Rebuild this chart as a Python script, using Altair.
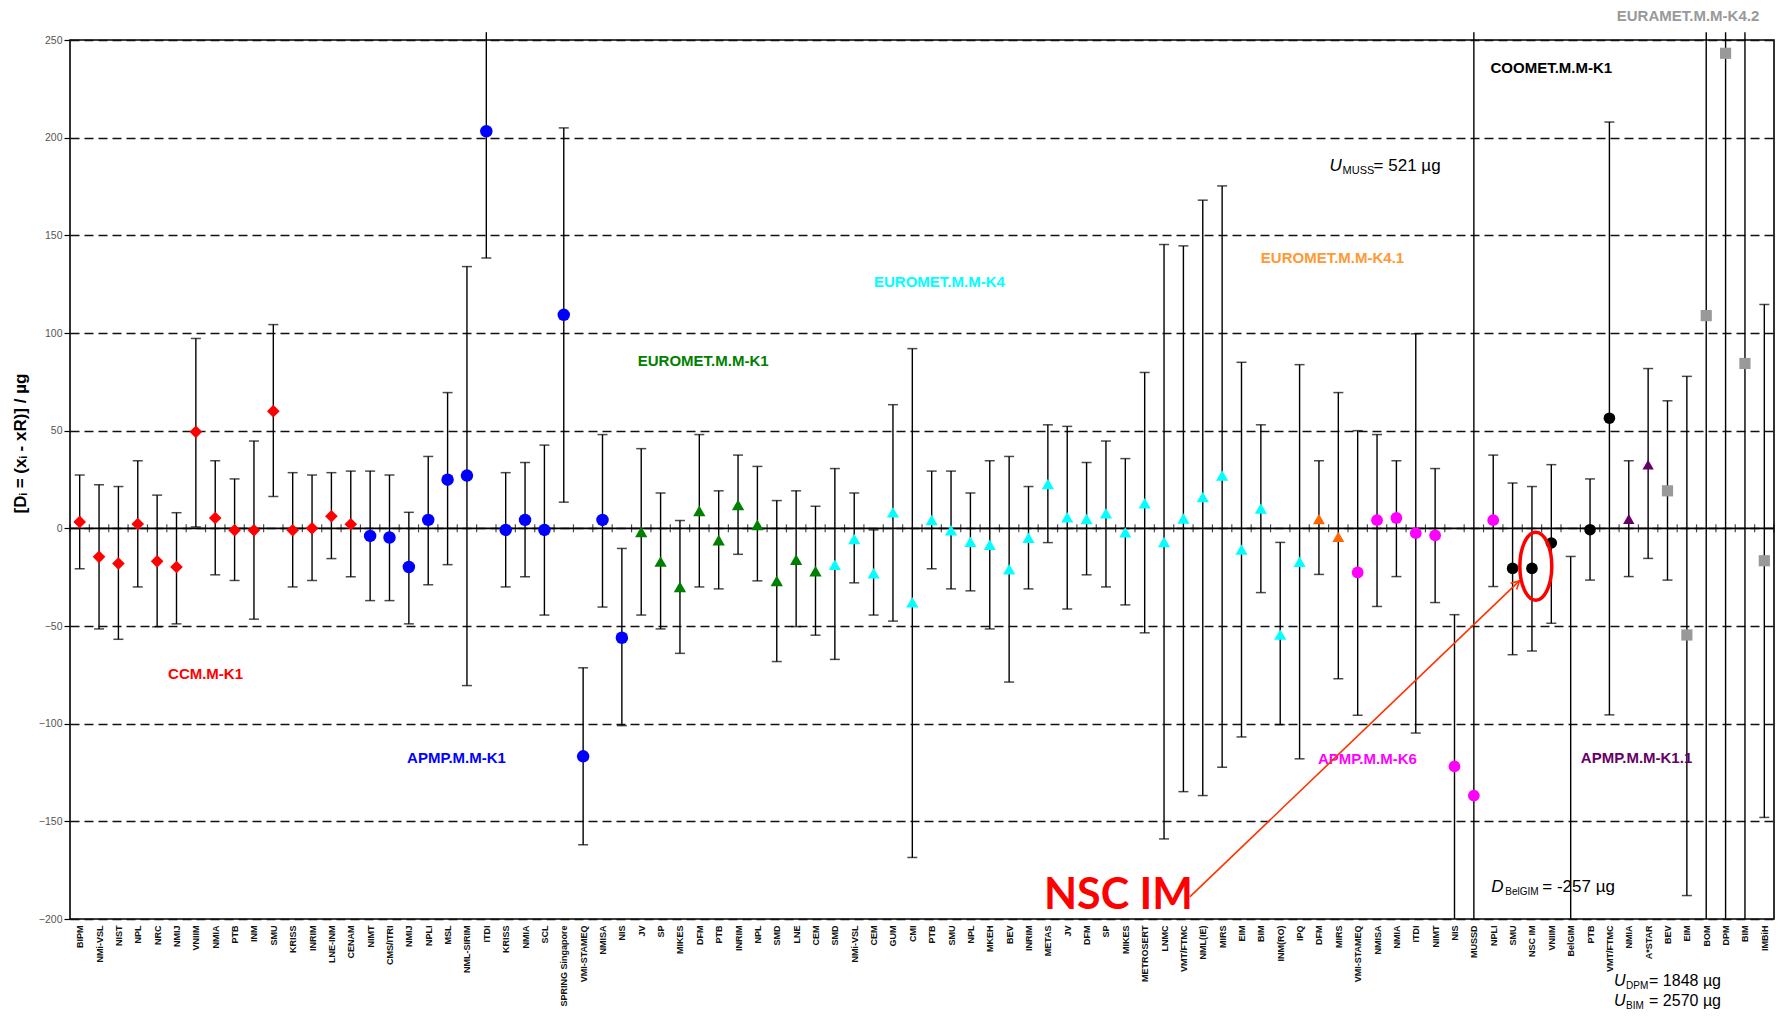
import altair as alt
import pandas as pd
import numpy as np

# ---------------- data ----------------
names = ["BIPM", "NMi-VSL", "NIST", "NPL", "NRC", "NMIJ", "VNIIM", "NMIA", "PTB", "INM",
         "SMU", "KRISS", "INRIM", "LNE-INM", "CENAM", "NIMT", "CMS/ITRI", "NMIJ", "NPLI", "MSL",
         "NML-SIRIM", "ITDI", "KRISS", "NMIA", "SCL", "SPRING Singapore", "VMI-STAMEQ", "NMISA", "NIS", "JV",
         "SP", "MIKES", "DFM", "PTB", "INRIM", "NPL", "SMD", "LNE", "CEM", "SMD",
         "NMi-VSL", "CEM", "GUM", "CMI", "PTB", "SMU", "NPL", "MKEH", "BEV", "INRIM",
         "METAS", "JV", "DFM", "SP", "MIKES", "METROSERT", "LNMC", "VMT/FTMC", "NML(IE)", "MIRS",
         "EIM", "BIM", "INM(RO)", "IPQ", "DFM", "MIRS", "VMI-STAMEQ", "NMISA", "NMIA", "ITDI",
         "NIMT", "NIS", "MUSSD", "NPLI", "SMU", "NSC IM", "VNIIM", "BelGIM", "PTB", "VMT/FTMC",
         "NMIA", "A*STAR", "BEV", "EIM", "BOM", "DPM", "BIM", "IMBiH"]

groups = (["CCM.M-K1"] * 15 + ["APMP.M.M-K1"] * 14 + ["EUROMET.M.M-K1"] * 10 +
          ["EUROMET.M.M-K4"] * 25 + ["EUROMET.M.M-K4.1"] * 2 + ["APMP.M.M-K6"] * 8 +
          ["COOMET.M.M-K1"] * 6 + ["APMP.M.M-K1.1"] * 2 + ["EURAMET.M.M-K4.2"] * 6)

values = [3.3, -14.6, -18, 2.2, -16.9, -19.8, 49.4, 5.3, -1, -1,
          60, -1, 0, 6.2, 2.1, -3.9, -4.7, -19.8, 4.3, 24.9,
          27, 203.3, -0.8, 4.3, -0.8, 109.3, -116.7, 4.3, -56, -1.8,
          -17, -30, 8.9, -6, 12, 1.8, -26.9, -16, -21.9, -18.6,
          -5.5, -23, 8.2, -37.9, 4.3, -1, -6.9, -8.4, -21, -4.8,
          22.7, 5.7, 4.8, 7.7, -2, 12.9, -7, 5, 16, 27,
          -10.9, 10.2, -54.3, -17.1, 4.8, -4.4, -22.6, 4.2, 5.3, -2.5,
          -3.6, -121.9, -136.8, 4.2, -20.5, -20.5, -7.5, -257, -0.7, 56.4,
          4.8, 32.6, 19.2, -54.6, 108.9, 243.2, 84.4, -16.6]

lows = [-20.7, -51.5, -56.8, -30, -50.4, -48.9, 0.7, -23.8, -26.7, -46.5,
        16.3, -30, -26.7, -15.5, -24.8, -37, -37, -48.9, -28.9, -18.6,
        -80.5, 138.4, -30, -24.8, -44.4, 13.4, -162, -40.3, -101, -44.4,
        -51.5, -64, -30, -31, -13.3, -26.9, -68.2, -50.3, -54.7, -67.1,
        -27.9, -44.4, -47.5, -168.5, -20.7, -31, -32, -51.5, -78.7, -31,
        -7.3, -41.3, -23.8, -30, -39.2, -53.5, -159, -134.8, -136.8, -122.3,
        -106.8, -32.9, -100.5, -118, -23.6, -77, -95.7, -40, -24.7, -104.8,
        -38, -201, -658, -29.8, -64.7, -62.8, -48.6, -500, -26.5, -95.5,
        -24.7, -15.4, -26.5, -188, -600, -1605, -2486, -148]

highs = [27.3, 22.3, 21.4, 34.6, 17, 8, 97.2, 34.6, 25.3, 44.7,
         104.3, 28.5, 27.3, 28.5, 29.3, 29.3, 27.3, 8.2, 36.8, 69.5,
         134, 268, 28.5, 33.7, 42.6, 205, -71.4, 48, -10.3, 40.8,
         18.1, 4, 48, 19.2, 37.5, 31.7, 14.2, 19.2, 11.3, 30.6,
         18.1, -0.8, 63.3, 92, 29.3, 29.3, 18.1, 34.6, 36.8, 21.4,
         53, 52.2, 33.7, 44.7, 35.7, 79.8, 145.3, 144.6, 168, 175.3,
         85, 53, -7.2, 83.8, 34.6, 69.5, 50, 48, 34.6, 99.6,
         30.6, -44.2, 384, 37.5, 23.2, 21.4, 32.6, -14.4, 25.3, 208,
         34.6, 81.8, 65.3, 77.8, 800, 2091, 2654, 114.6]

group_names = ["CCM.M-K1", "APMP.M.M-K1", "EUROMET.M.M-K1", "EUROMET.M.M-K4", "EUROMET.M.M-K4.1",
               "APMP.M.M-K6", "COOMET.M.M-K1", "APMP.M.M-K1.1", "EURAMET.M.M-K4.2"]
group_colors = ["#FF0000", "#0000FF", "#008000", "#00FFFF", "#FF6600",
                "#FF00FF", "#000000", "#660066", "#999999"]
group_shapes = ["diamond", "circle", "triangle-up", "triangle-up", "triangle-up",
                "circle", "circle", "triangle-up", "square"]
group_sizes = [160, 125, 180, 180, 180, 125, 105, 180, 180]

# group annotations
ann_text = ["CCM.M-K1", "APMP.M.M-K1", "EUROMET.M.M-K1", "EUROMET.M.M-K4", "EUROMET.M.M-K4.1",
            "APMP.M.M-K6", "COOMET.M.M-K1", "APMP.M.M-K1.1", "EURAMET.M.M-K4.2"]
ann_x = [6.5, 19.46, 32.2, 44.4, 64.7, 66.5, 76.0, 80.4, 83.06]
ann_y = [-74.5, -117.6, 85.6, 126.3, 138.6, -118.2, 235.8, -117.6, 262.5]
ann_color = ["#FF0000", "#0000FF", "#008000", "#00FFFF", "#FF9933",
             "#FF00FF", "#000000", "#660066", "#999999"]

# uncertainty / deviation notes: (x, y, text, dx, dy, fontsize, style)
notes = [
    (64.55, 183, "U", 0, 0, 17, "italic"),
    (64.55, 183, "MUSS", 13, 3, 11, "normal"),
    (64.55, 183, "= 521 µg", 44, 0, 17, "normal"),
    (72.9, -186, "D", 0, 0, 17, "italic"),
    (72.9, -186, "BelGIM", 14, 3, 10, "normal"),
    (72.9, -186, "= -257 µg", 51, 0, 17, "normal"),
    (79.24, -234.3, "U", 0, 0, 16, "italic"),
    (79.24, -234.3, "DPM", 12, 3, 10, "normal"),
    (79.24, -234.3, "= 1848 µg", 35, 0, 16, "normal"),
    (79.24, -244.6, "U", 0, 0, 16, "italic"),
    (79.24, -244.6, "BIM", 12, 3, 10, "normal"),
    (79.24, -244.6, "= 2570 µg", 35, 0, 16, "normal"),
]

nsc_label = ["NSC IM"]
nsc_pos = [49.8, -195]
arrow_from = [57.33, -188.7]
arrow_to = [74.35, -26.9]
ellipse_center = [75.2, -19.4]

y_title = "[Dᵢ = (xᵢ - xR)] / µg"

# ---------------- chart ----------------
YMIN, YMAX = -200, 250
W, H = 1704, 879
N = len(names)

df = pd.DataFrame({"k": np.arange(N), "name": names, "group": groups,
                   "value": values, "lo": lows, "hi": highs})
df["lo_c"] = df["lo"].clip(lower=YMIN)
df["hi_c"] = df["hi"].clip(upper=YMAX + 4)

caps = pd.concat([df[["k", "lo"]].rename(columns={"lo": "c"}),
                  df[["k", "hi"]].rename(columns={"hi": "c"})])
caps = caps[(caps["c"] >= YMIN) & (caps["c"] <= YMAX)]
pts = df[(df["value"] >= YMIN) & (df["value"] <= YMAX)]

xsc = alt.Scale(domain=[-0.5, N - 0.5], nice=False, zero=False)
ysc = alt.Scale(domain=[YMIN, YMAX], nice=False, zero=False)

label_expr = "[" + ",".join('"' + n + '"' for n in names) + "][datum.value]"

x_axis = alt.Axis(values=list(range(N)), labelExpr=label_expr, labelAngle=270,
                  labelFontSize=9, labelFontWeight="bold", labelColor="#111",
                  labelFont="Liberation Sans", labelPadding=6, labelOverlap=False,
                  labelBound=False, labelFlush=False, ticks=False, domain=False,
                  grid=False, title=None)
y_axis = alt.Axis(values=list(range(YMIN, YMAX + 1, 50)), labelFontSize=10.5,
                  labelColor="#555", labelFont="Liberation Sans", tickSize=6,
                  tickColor="#000", tickWidth=1.2, labelPadding=2, domain=False,
                  grid=True, gridDash=[9, 5], gridColor="#111", gridWidth=1.3,
                  title=y_title, titleFontSize=17, titleFontWeight="bold",
                  titleFont="Liberation Sans", titleX=-50, titleY=403,
                  titleAngle=270, titleBaseline="middle", titleAlign="center")


def X(field):
    return alt.X(field, scale=xsc, axis=x_axis)


def Y(field):
    return alt.Y(field, scale=ysc, axis=y_axis)


bars = alt.Chart(df).mark_rule(color="#000", strokeWidth=1.4).encode(
    x=X("k:Q"), y=Y("lo_c:Q"), y2="hi_c:Q",
)

zero = alt.Chart(pd.DataFrame({"k": [-0.5], "k2": [N - 0.5], "z": [0]})).mark_rule(
    color="#000", strokeWidth=1.6).encode(
    x=X("k:Q"), x2="k2:Q", y=Y("z:Q")
)

bnd = pd.DataFrame({"b": np.arange(-0.5, N, 1.0), "z": 0})
zticks = alt.Chart(bnd).mark_tick(orient="vertical", size=8, thickness=1.2, color="#000").encode(
    x=X("b:Q"), y=Y("z:Q"),
)

capm = alt.Chart(caps).mark_tick(orient="horizontal", size=10, thickness=1.5, color="#000").encode(
    x=X("k:Q"), y=Y("c:Q"),
)

points = alt.Chart(pts).mark_point(filled=True, opacity=1, strokeWidth=0, clip=True).encode(
    x=X("k:Q"), y=Y("value:Q"),
    color=alt.Color("group:N", scale=alt.Scale(domain=group_names, range=group_colors), legend=None),
    shape=alt.Shape("group:N", scale=alt.Scale(domain=group_names, range=group_shapes), legend=None),
    size=alt.Size("group:N", scale=alt.Scale(domain=group_names, range=group_sizes), legend=None),
)

ann_df = pd.DataFrame({"x": ann_x, "y": ann_y, "t": ann_text, "c": ann_color})
ann = alt.Chart(ann_df).mark_text(fontSize=15, fontWeight="bold", font="Liberation Sans",
                                  align="center", baseline="middle").encode(
    x=X("x:Q"), y=Y("y:Q"), text="t:N",
    color=alt.Color("c:N", scale=None),
)

note_layers = []
for (nx, ny, nt, ndx, ndy, nfs, nst) in notes:
    note_layers.append(
        alt.Chart(pd.DataFrame({"x": [nx], "y": [ny], "t": [nt]})).mark_text(
            fontSize=nfs, fontStyle=nst, font="Liberation Sans", color="#000",
            align="left", baseline="alphabetic", dx=ndx, dy=ndy).encode(
            x=X("x:Q"), y=Y("y:Q"), text="t:N",
        )
    )

nsc = alt.Chart(pd.DataFrame({"x": [nsc_pos[0]], "y": [nsc_pos[1]], "t": nsc_label})).mark_text(
    font="Lato", fontWeight="bold", fontSize=43, color="#FF0000",
    align="left", baseline="alphabetic").encode(
    x=X("x:Q"), y=Y("y:Q"), text="t:N",
)

arrow = alt.Chart(pd.DataFrame({"x": [arrow_from[0]], "y": [arrow_from[1]],
                                "x2": [arrow_to[0]], "y2": [arrow_to[1]]})).mark_rule(
    color="#FF3300", strokeWidth=1.6).encode(
    x=X("x:Q"), y=Y("y:Q"), x2="x2:Q", y2="y2:Q",
)

head = alt.Chart(pd.DataFrame({"x": [arrow_to[0]], "y": [arrow_to[1]]})).mark_point(
    shape="M -0.55 1 L 0 0 L 0.55 1", size=256, filled=False, color="#FF3300",
    strokeWidth=1.6, opacity=1, angle=46).encode(
    x=X("x:Q"), y=Y("y:Q"),
)

ellipse_path = ("M 0 -1 C 0.26 -1 0.47 -0.55 0.47 0 C 0.47 0.55 0.26 1 0 1 "
                "C -0.26 1 -0.47 0.55 -0.47 0 C -0.47 -0.55 -0.26 -1 0 -1 Z")
ellipse = alt.Chart(pd.DataFrame({"x": [ellipse_center[0]], "y": [ellipse_center[1]]})).mark_point(
    shape=ellipse_path, size=4624, filled=False, color="#FF0000", strokeWidth=3.5, opacity=1).encode(
    x=X("x:Q"), y=Y("y:Q"),
)

chart = alt.layer(bars, zero, zticks, capm, points, ann, *note_layers, nsc, arrow, head, ellipse).properties(
    width=W, height=H,
    autosize=alt.AutoSizeParams(type="none"),
    padding={"left": 62, "top": 32, "right": 1, "bottom": 91},
).configure(font="Liberation Sans").configure_view(stroke="#000", strokeWidth=1.6)

chart.save("out.html", embed_options={"renderer": "svg", "actions": False})
